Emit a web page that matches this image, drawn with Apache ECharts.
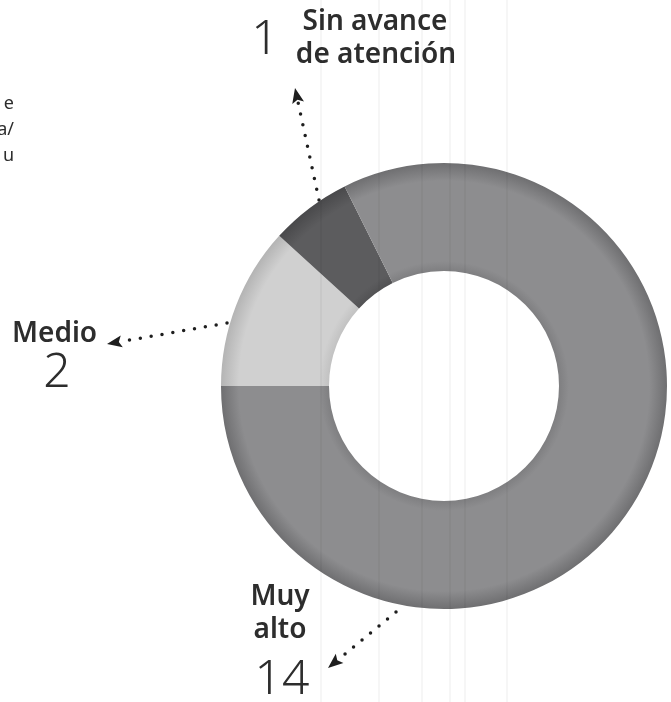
<!DOCTYPE html>
<html>
<head>
<meta charset="utf-8">
<script src="https://cdn.jsdelivr.net/npm/echarts@6/dist/echarts.min.js"></script>
<style>
  html, body { margin: 0; padding: 0; background: #fff; }
  #chart { width: 671px; height: 702px; }
</style>
</head>
<body>
<div id="chart"></div>
<script>
// datos del gráfico (orden horario desde las 9 en punto)
const categories = ["Medio", "Sin avance de atención", "Muy alto"];
const values = [2, 1, 14];
// color base, borde interior, borde exterior
const sliceColors = [
  ["#d0d0d0", "#c2c2c2", "#b4b4b4"],
  ["#5c5c5e", "#525254", "#49494b"],
  ["#8d8d8f", "#7f7f81", "#6f6f71"]
];
// textos de las etiquetas
const labelLines = [["Medio"], ["Sin avance", "de atención"], ["Muy", "alto"]];
const cutText = ["e", "a/", "u"];

const myChart = echarts.init(document.getElementById("chart"));

const cx = 444, cy = 386, rIn = 115, rOut = 223;
const ink = "#2d2d2d";
const boldFont = "600 28px 'Noto Sans', sans-serif";
const numFont = "300 48px 'Noto Sans', sans-serif";

// sombra suave en los bordes, como el original impreso
function ringColor(c) {
  return {
    type: "radial", x: cx, y: cy, r: rOut, global: true,
    colorStops: [
      { offset: rIn / rOut, color: c[1] },
      { offset: 0.56, color: c[0] },
      { offset: 0.92, color: c[0] },
      { offset: 1, color: c[2] }
    ]
  };
}

// flecha punteada: de la dona hacia la etiqueta
function arrow(from, tip) {
  const dx = tip[0] - from[0], dy = tip[1] - from[1];
  const len = Math.sqrt(dx * dx + dy * dy);
  const ux = dx / len, uy = dy / len;
  const base = [tip[0] - ux * 15, tip[1] - uy * 15];
  return [
    {
      type: "polyline",
      shape: { points: [from, base] },
      style: { stroke: "#1e1e1e", lineWidth: 3.5, lineDash: [0, 11], lineCap: "round", fill: null }
    },
    {
      type: "polygon",
      shape: {
        points: [
          tip,
          [base[0] - uy * 6, base[1] + ux * 6],
          [base[0] + ux * 3, base[1] + uy * 3],
          [base[0] + uy * 6, base[1] - ux * 6]
        ]
      },
      style: { fill: "#1e1e1e" }
    }
  ];
}

function txt(text, x, y, font, align) {
  return {
    type: "text",
    style: { text: text, x: x, y: y, font: font, fill: ink, align: align || "center", verticalAlign: "middle" }
  };
}

// líneas verticales tenues del escaneo
const scanX = [321, 379, 422, 450, 465, 507];
const scanLines = scanX.map(x => ({
  type: "line",
  z: 10,
  shape: { x1: x, y1: 0, x2: x, y2: 702 },
  style: { stroke: "rgba(0,0,0,0.07)", lineWidth: 1 }
}));

const graphics = [].concat(
  scanLines,
  arrow([319, 200], [295, 88]),
  arrow([227, 323], [107, 344]),
  arrow([396, 612], [328, 668]),
  [
    // Sin avance de atención
    txt(String(values[1]), 265, 40, numFont),
    txt(labelLines[1][0], 375, 22, boldFont),
    txt(labelLines[1][1], 376, 55, boldFont),
    // Medio
    txt(labelLines[0][0], 12, 334, boldFont, "left"),
    txt(String(values[0]), 57, 373, numFont),
    // Muy alto
    txt(labelLines[2][0], 280, 597, boldFont),
    txt(labelLines[2][1], 280, 630, boldFont),
    txt(String(values[2]), 282, 680, numFont)
  ],
  cutText.map((t, i) => txt(t, 14, 104 + i * 26, "400 18px 'Noto Sans', sans-serif", "right"))
);

myChart.setOption({
  animation: false,
  backgroundColor: "#ffffff",
  series: [
    {
      type: "pie",
      center: [cx, cy],
      radius: [rIn, rOut],
      startAngle: 180,
      clockwise: true,
      silent: true,
      label: { show: false },
      labelLine: { show: false },
      itemStyle: { borderWidth: 0 },
      data: categories.map((name, i) => ({
        name: name,
        value: values[i],
        itemStyle: { color: ringColor(sliceColors[i]) }
      }))
    }
  ],
  graphic: graphics
});
</script>
</body>
</html>
